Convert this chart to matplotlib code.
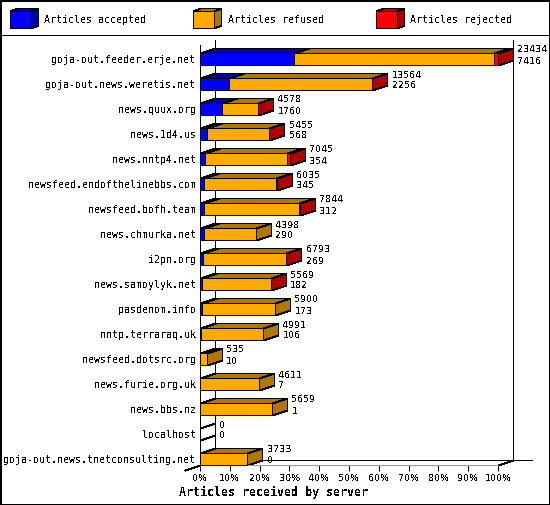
import numpy as np
import matplotlib
matplotlib.use("Agg")
import matplotlib.pyplot as plt
from matplotlib.patches import Polygon, Rectangle

plt.rcParams['font.family'] = ['DejaVu Sans Mono']
plt.rcParams['text.antialiased'] = False
plt.rcParams['patch.antialiased'] = False
plt.rcParams['lines.antialiased'] = False

servers = ["goja-out.feeder.erje.net", "goja-out.news.weretis.net", "news.quux.org",
           "news.1d4.us", "news.nntp4.net", "newsfeed.endofthelinebbs.com",
           "newsfeed.bofh.team", "news.chmurka.net", "i2pn.org", "news.samoylyk.net",
           "pasdenom.info", "nntp.terraraq.uk", "newsfeed.dotsrc.org", "news.furie.org.uk",
           "news.bbs.nz", "localhost", "goja-out.news.tnetconsulting.net"]
total = np.array([23434, 13564, 4578, 5455, 7045, 6035, 7844, 4398, 6793, 5569,
                  5900, 4991, 535, 4611, 5659, 0, 3733])
accepted = np.array([7416, 2256, 1760, 568, 354, 345, 312, 290, 269, 182,
                     173, 106, 10, 7, 1, 0, 0])
# rejected is not printed on the chart, estimated from the red parts
rejected = np.array([315, 30, 15, 10, 240, 20, 25, 0, 15, 10,
                     0, 0, 0, 0, 0, 0, 0])
refused = total - accepted - rejected
tick_pct = np.arange(0, 101, 10)
legend_names = ["Articles accepted", "Articles refused", "Articles rejected"]

front = ["#0000ff", "#ffaa00", "#ff0000"]
dark = ["#0000b2", "#b27700", "#b20000"]
lw = 0.72   # 1 pixel
fs = 7.2
num_fs = 6.8  # digits of DejaVu Sans are 6 px wide at this size, and have a plain zero

fig = plt.figure(figsize=(5.5, 5.05), dpi=100)

# legend strip, in pixels
lg = fig.add_axes([0, 0, 1, 1])
lg.set_xlim(0, 550)
lg.set_ylim(505, 0)
lg.axis("off")
lg.plot([0, 550], [35, 35], color="black", lw=lw)
for x0, xt, name, c, d in zip([10, 193, 376], [44.5, 227.5, 410.5], legend_names, front, dark):
    lg.add_patch(Polygon([(x0, 11), (x0 + 7, 8), (x0 + 28, 8), (x0 + 21, 11)], fc=d, ec="black", lw=lw, snap=True))
    lg.add_patch(Polygon([(x0 + 21, 11), (x0 + 28, 8), (x0 + 28, 25), (x0 + 21, 28)], fc=d, ec="black", lw=lw, snap=True))
    lg.add_patch(Rectangle((x0, 11), 21, 17, fc=c, ec="black", lw=lw))
    lg.text(xt, 20, name, fontsize=fs, va="center", ha="left")

ax = fig.add_axes([200 / 550, 40 / 505, 298 / 550, 420 / 505])
ax.patch.set_alpha(0)
ax.set_xlim(0, 100)
ax.set_ylim(16.24, -0.56)
for s in ["top", "right"]:
    ax.spines[s].set_visible(False)
ax.spines["left"].set_linewidth(lw)
ax.spines["bottom"].set_linewidth(lw)
ax.spines["bottom"].set_color("#999999")

DX = 15 / 2.98   # depth of the bars, percent
DY = 5 / 25      # depth of the bars, rows
H = 12 / 25
y = np.arange(len(servers))
scale = 100 / total.max()

# back wall and floor
ax.plot([DX, DX], [-0.76, 16.04], color="black", lw=lw, clip_on=False, zorder=1)
ax.plot([100 + DX, 100 + DX], [-0.76, 16.04], color="black", lw=lw, clip_on=False, zorder=1)
ax.plot([-DX, DX, 100 + DX + 6.4], [16.44, 16.04, 16.04], color="black", lw=lw, clip_on=False, zorder=1, snap=True)
ax.plot([100, 100 + DX], [16.24, 16.04], color="black", lw=lw, clip_on=False, zorder=1, snap=True)

segments = [accepted * scale, refused * scale, rejected * scale]
left = np.zeros(len(servers))
last_end = total * scale
for k, seg in enumerate(segments):
    for i in y:
        if seg[i] <= 0:
            continue
        top = y[i] - H / 2
        ax.add_patch(Polygon([(left[i], top), (left[i] + DX, top - DY),
                              (left[i] + seg[i] + DX, top - DY), (left[i] + seg[i], top)],
                             fc=dark[k], ec="black", lw=lw, clip_on=False, zorder=2, snap=True))
    mask = seg > 0
    ax.barh(y[mask], seg[mask], H, left=left[mask], color=front[k], edgecolor="black",
            linewidth=lw, zorder=3, clip_on=False)
    left = left + seg

# side face takes the colour of the last non empty part
for i in y:
    end = last_end[i]
    top, bot = y[i] - H / 2, y[i] + H / 2
    side = "none"
    for k in range(3):
        if segments[k][i] > 0:
            side = dark[k]
    ax.add_patch(Polygon([(end, top), (end + DX, top - DY), (end + DX, bot - DY), (end, bot)],
                         fc=side, ec="black", lw=lw, clip_on=False, zorder=2, snap=True))
    ax.text(end + 19.5 / 2.98, y[i] - 0.36, str(total[i]), fontsize=num_fs, family="DejaVu Sans",
            va="center", ha="left", zorder=4)
    ax.text(end + 19.5 / 2.98, y[i] + 0.08, str(accepted[i]), fontsize=num_fs, family="DejaVu Sans",
            va="center", ha="left", zorder=4)

ax.set_yticks(y)
ax.set_yticklabels(servers, fontsize=fs)
ax.tick_params(axis="y", length=0, pad=3)
ax.set_xticks(tick_pct)
ax.set_xticklabels([f"{p}%" for p in tick_pct], fontsize=num_fs, family="DejaVu Sans")
ax.tick_params(axis="x", length=4, width=lw, pad=2.2)

fig.text(0.498, 1 - 492 / 505, "Articles received by server", fontsize=8.4, fontweight="bold",
         ha="center", va="center")
fig.add_artist(Rectangle((0, 0), 1, 1, fill=False, ec="black", lw=1, transform=fig.transFigure))

fig.savefig("out.png", dpi=100)
